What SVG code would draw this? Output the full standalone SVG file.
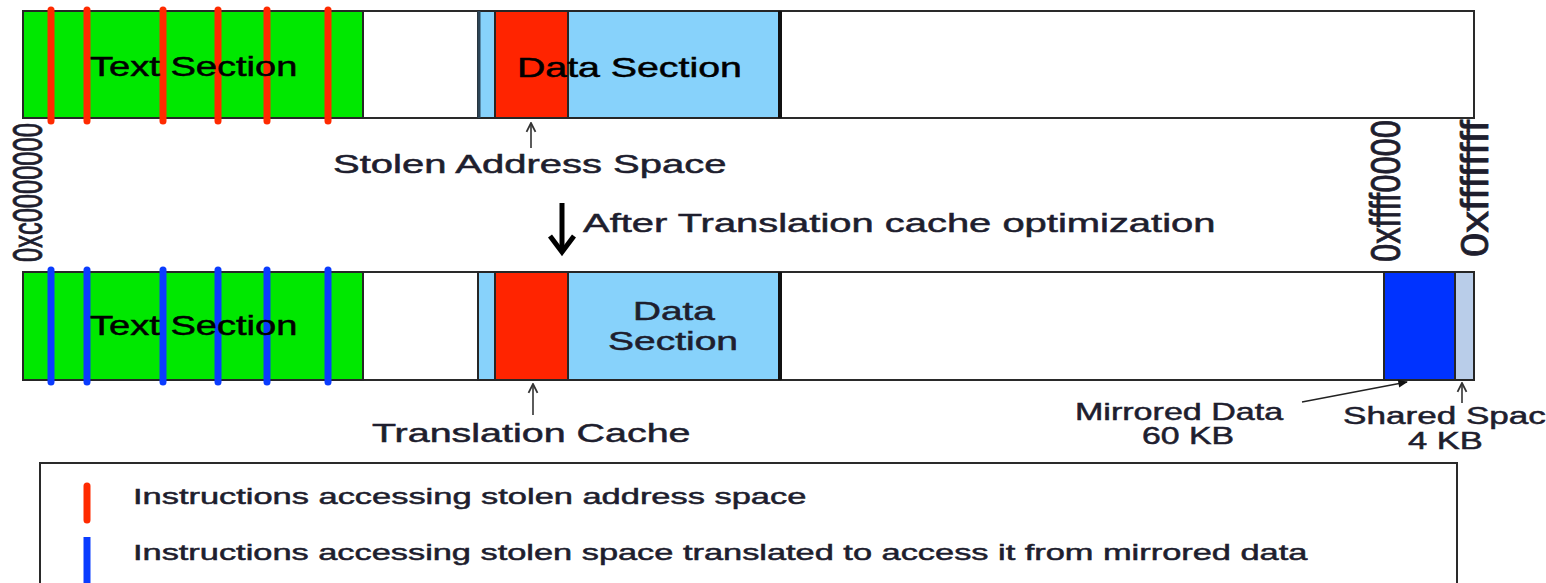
<svg xmlns="http://www.w3.org/2000/svg" width="1546" height="583" viewBox="0 0 1546 583">
  <defs>
    <style>
      .bar { stroke: #2a2a2a; stroke-width: 2; }
      .seg { stroke: #262626; stroke-width: 2; }
      .sep { stroke: #111; stroke-width: 4; }
      .green { fill: #00e800; }
      .red { fill: #ff2400; }
      .sky { fill: #87d2fb; }
      .blue { fill: #0033ff; }
      .pale { fill: #b9cde9; }
      .white { fill: #ffffff; }
      .mark-red { stroke: #ff2a00; stroke-width: 7; stroke-linecap: round; }
      .mark-blue { stroke: #0a3cff; stroke-width: 7; stroke-linecap: round; }
      .inner { font-family: "Liberation Sans", Arial, sans-serif; fill: #000; stroke: #000; stroke-width: 0.5; }
      .label { font-family: "Liberation Sans", Arial, sans-serif; fill: #1e1e2e; stroke: #1e1e2e; stroke-width: 0.5; }
      .thin { stroke: #333; stroke-width: 1.6; fill: none; }
    </style>
    <marker id="open-head" viewBox="0 0 10 10" refX="9" refY="5" markerWidth="7" markerHeight="7" orient="auto">
      <path d="M1,1 L9,5 L1,9" fill="none" stroke="#333" stroke-width="1.6"/>
    </marker>
    <marker id="solid-head" viewBox="0 0 10 10" refX="9" refY="5" markerWidth="8" markerHeight="6" orient="auto">
      <path d="M0,1 L10,5 L0,9 Z" fill="#111"/>
    </marker>
  </defs>

  <rect width="1546" height="583" fill="#ffffff"/>

  <!-- address space before optimization -->
  <g id="memory-before">
    <rect class="white bar" x="23" y="11" width="1451" height="107"/>
    <rect class="green seg" x="23" y="11" width="340" height="107"/>
    <rect class="sky seg" x="478" y="11" width="17" height="107"/>
    <line x1="479" y1="11" x2="479" y2="118" stroke="#2b4456" stroke-width="3"/>
    <rect class="red seg" x="495" y="11" width="73" height="107"/>
    <rect class="sky seg" x="568" y="11" width="212" height="107"/>
    <line class="sep" x1="780" y1="11" x2="780" y2="118"/>
    <g>
      <line class="mark-red" x1="51" y1="10" x2="51" y2="121"/>
      <line class="mark-red" x1="87" y1="10" x2="87" y2="121"/>
      <line class="mark-red" x1="163" y1="10" x2="163" y2="121"/>
      <line class="mark-red" x1="218" y1="10" x2="218" y2="121"/>
      <line class="mark-red" x1="267" y1="10" x2="267" y2="121"/>
      <line class="mark-red" x1="328" y1="10" x2="328" y2="121"/>
    </g>
    <text class="inner" transform="translate(90 76) scale(1.36 1)" font-size="28">Text Section</text>
    <text class="inner" transform="translate(517 77) scale(1.455 1)" font-size="27">Data Section</text>
  </g>

  <!-- address space after optimization -->
  <g id="memory-after">
    <rect class="white bar" x="23" y="272" width="1451" height="108"/>
    <rect class="green seg" x="23" y="272" width="340" height="108"/>
    <rect class="sky seg" x="478" y="272" width="17" height="108"/>
    <rect class="red seg" x="495" y="272" width="73" height="108"/>
    <rect class="sky seg" x="568" y="272" width="212" height="108"/>
    <line class="sep" x1="780" y1="272" x2="780" y2="380"/>
    <rect class="blue seg" x="1384" y="272" width="71" height="108"/>
    <rect class="pale seg" x="1455" y="272" width="19" height="108"/>
    <g>
      <line class="mark-blue" x1="51" y1="270" x2="51" y2="382"/>
      <line class="mark-blue" x1="87" y1="270" x2="87" y2="382"/>
      <line class="mark-blue" x1="163" y1="270" x2="163" y2="382"/>
      <line class="mark-blue" x1="218" y1="270" x2="218" y2="382"/>
      <line class="mark-blue" x1="267" y1="270" x2="267" y2="382"/>
      <line class="mark-blue" x1="328" y1="270" x2="328" y2="382"/>
    </g>
    <text class="inner" transform="translate(90 335) scale(1.36 1)" font-size="28">Text Section</text>
    <text class="label" transform="translate(633 320) scale(1.55 1)" font-size="25">Data</text>
    <text class="label" transform="translate(608 350) scale(1.56 1)" font-size="25">Section</text>
  </g>

  <!-- address labels, rotated -->
  <g id="addresses">
    <text class="label" transform="translate(42 262) rotate(-90) scale(1 1.7)" font-size="25.5">0xc0000000</text>
    <text class="label" transform="translate(1400 262) rotate(-90) scale(1 1.7)" font-size="25" textLength="142" lengthAdjust="spacingAndGlyphs">0xffff0000</text>
    <text class="label" transform="translate(1488 257) rotate(-90) scale(1 1.6)" font-size="24" textLength="137" lengthAdjust="spacingAndGlyphs">0xffffffff</text>
  </g>

  <!-- region captions -->
  <g id="captions">
    <text class="label" transform="translate(333 173) scale(1.6 1)" font-size="25">Stolen Address Space</text>
    <text class="label" transform="translate(583 232) scale(1.56 1)" font-size="25.6">After Translation cache optimization</text>
    <text class="label" transform="translate(372 442) scale(1.517 1)" font-size="26">Translation Cache</text>
    <text class="label" transform="translate(1075 420) scale(1.45 1)" font-size="23.5">Mirrored Data</text>
    <text class="label" transform="translate(1142 444) scale(1.44 1)" font-size="23.5">60 KB</text>
    <text class="label" transform="translate(1343 424) scale(1.494 1)" font-size="23.5">Shared Spac</text>
    <text class="label" transform="translate(1408 449) scale(1.47 1)" font-size="23.5">4 KB</text>
  </g>

  <!-- connectors -->
  <g id="connectors">
    <line class="thin" x1="531" y1="148" x2="531" y2="123" marker-end="url(#open-head)"/>
    <line class="thin" x1="533" y1="415" x2="533" y2="384" marker-end="url(#open-head)"/>
    <line class="thin" x1="1462" y1="403" x2="1462" y2="383" marker-end="url(#open-head)"/>
    <line x1="1302" y1="402" x2="1407" y2="382" stroke="#222" stroke-width="1.6" marker-end="url(#solid-head)"/>
    <g stroke="#000" stroke-width="5" fill="none" stroke-linecap="butt">
      <line x1="562" y1="203" x2="562" y2="250"/>
      <path d="M550,236 L562,252 L574,236" stroke-linejoin="miter"/>
    </g>
  </g>

  <!-- legend -->
  <g id="legend">
    <rect x="40" y="463" width="1417" height="130" fill="#fff" stroke="#2a2a2a" stroke-width="2"/>
    <line class="mark-red" x1="87" y1="486" x2="87" y2="520"/>
    <line x1="87" y1="537" x2="87" y2="583" stroke="#0a3cff" stroke-width="7"/>
    <text class="label" transform="translate(133 504) scale(1.565 1)" font-size="22">Instructions accessing stolen address space</text>
    <text class="label" transform="translate(133 560) scale(1.562 1)" font-size="22">Instructions accessing stolen space translated to access it from mirrored data</text>
  </g>
</svg>
